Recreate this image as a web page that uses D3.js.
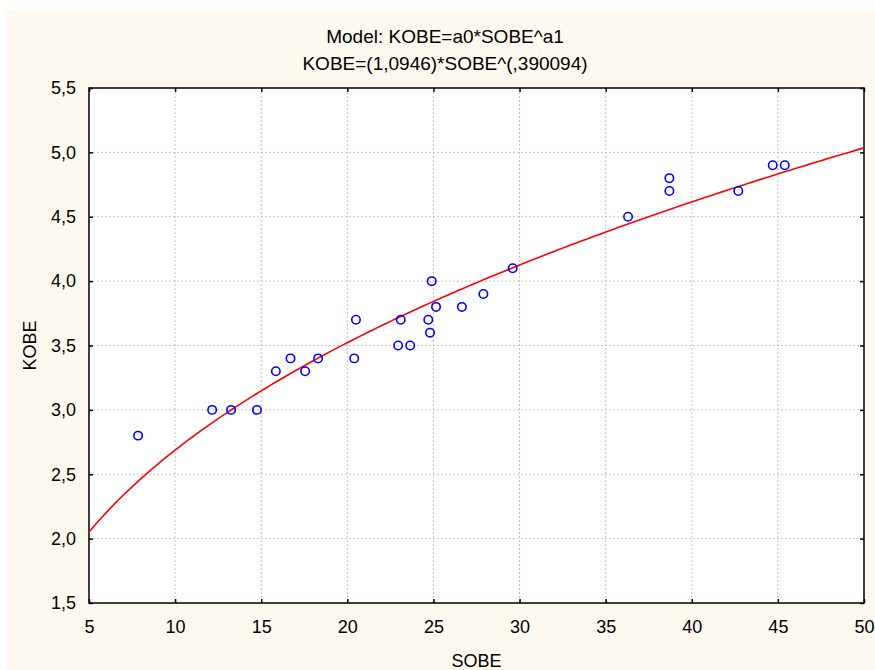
<!DOCTYPE html>
<meta charset="utf-8">
<script src="https://d3js.org/d3.v7.min.js"></script>
<style>
  body { margin: 0; background: #fff; font-family: Arial, "Liberation Sans", sans-serif; }
  .tick text { font-family: Arial, "Liberation Sans", sans-serif; }
</style>
<body>
<div id="chart"></div>
<script>
var sobe = [7.85, 12.15, 13.25, 14.75, 15.85, 16.7, 17.55, 18.3, 20.4, 20.5,
            22.95, 23.1, 23.65, 24.7, 24.8, 24.9, 25.15, 26.65, 27.9, 29.6,
            36.3, 38.7, 38.7, 42.7, 44.7, 45.4];
var kobe = [2.8, 3.0, 3.0, 3.0, 3.3, 3.4, 3.3, 3.4, 3.4, 3.7,
            3.5, 3.7, 3.5, 3.7, 3.6, 4.0, 3.8, 3.8, 3.9, 4.1,
            4.5, 4.8, 4.7, 4.7, 4.9, 4.9];

// fitted model from the title
var a0 = 1.0946, a1 = 0.390094;

var xTicks = [5, 10, 15, 20, 25, 30, 35, 40, 45, 50];
var yTicks = [1.5, 2.0, 2.5, 3.0, 3.5, 4.0, 4.5, 5.0, 5.5];
var titleLines = ["Model: KOBE=a0*SOBE^a1", "KOBE=(1,0946)*SOBE^(,390094)"];

var W = 875, H = 670;
var margin = {top: 88, right: 11, bottom: 67, left: 89};
var width = W - margin.left - margin.right,
    height = H - margin.top - margin.bottom;

var svg = d3.select("#chart").append("svg")
    .attr("width", W)
    .attr("height", H);

// cream panel
svg.append("rect")
    .attr("x", 7).attr("y", 10)
    .attr("width", W - 7).attr("height", H - 10)
    .attr("fill", "#fdf9ee");

var g = svg.append("g")
    .attr("transform", "translate(" + margin.left + "," + margin.top + ")");

var x = d3.scaleLinear().domain([5, 50]).range([0, width]);
var y = d3.scaleLinear().domain([1.5, 5.5]).range([height, 0]);

var fmt = function(d) { return d3.format(".1f")(d).replace(".", ","); };

g.append("rect")
    .attr("width", width).attr("height", height)
    .attr("fill", "#fff");

// grid
g.selectAll(".gx")
    .data(xTicks.slice(1, -1))
    .enter().append("line")
    .attr("x1", function(d) { return x(d); })
    .attr("x2", function(d) { return x(d); })
    .attr("y1", 0).attr("y2", height)
    .attr("stroke", "#c4c4c4")
    .attr("stroke-dasharray", "2,2");

g.selectAll(".gy")
    .data(yTicks.slice(1, -1))
    .enter().append("line")
    .attr("y1", function(d) { return y(d); })
    .attr("y2", function(d) { return y(d); })
    .attr("x1", 0).attr("x2", width)
    .attr("stroke", "#c4c4c4")
    .attr("stroke-dasharray", "2,2");

// axes
var xAxis = g.append("g")
    .attr("transform", "translate(0," + height + ")")
    .call(d3.axisBottom(x).tickValues(xTicks).tickSizeInner(-4).tickSizeOuter(0).tickPadding(17));
var xTop = g.append("g")
    .call(d3.axisTop(x).tickValues(xTicks).tickSizeInner(-4).tickSizeOuter(0).tickFormat(""));
var yAxis = g.append("g")
    .call(d3.axisLeft(y).tickValues(yTicks).tickSizeInner(-4).tickSizeOuter(0).tickPadding(13).tickFormat(fmt));
var yRight = g.append("g")
    .attr("transform", "translate(" + width + ",0)")
    .call(d3.axisRight(y).tickValues(yTicks).tickSizeInner(-4).tickSizeOuter(0).tickFormat(""));

[xAxis, xTop, yAxis, yRight].forEach(function(a) {
  a.select(".domain").remove();
  a.selectAll("line").attr("stroke", "#000").attr("stroke-width", 1.5);
  a.selectAll("text").attr("fill", "#000").style("font-size", "18px");
});

g.append("rect")
    .attr("width", width).attr("height", height)
    .attr("fill", "none")
    .attr("stroke", "#000")
    .attr("stroke-width", 1.5);

// fitted curve
var curveX = d3.range(5, 50.01, 0.25);
var line = d3.line()
    .x(function(d) { return x(d); })
    .y(function(d) { return y(a0 * Math.pow(d, a1)); });

g.append("path")
    .datum(curveX)
    .attr("d", line)
    .attr("fill", "none")
    .attr("stroke", "#ff0000")
    .attr("stroke-width", 1.6);

// points
g.selectAll(".pt")
    .data(sobe)
    .enter().append("circle")
    .attr("cx", function(d) { return x(d); })
    .attr("cy", function(d, i) { return y(kobe[i]); })
    .attr("r", 4.2)
    .attr("fill", "none")
    .attr("stroke", "#0000ff")
    .attr("stroke-width", 1.6);

// titles
svg.selectAll(".title")
    .data(titleLines)
    .enter().append("text")
    .attr("x", 445)
    .attr("y", function(d, i) { return 43 + i * 27; })
    .attr("text-anchor", "middle")
    .style("font-size", "19px")
    .attr("fill", "#000")
    .text(function(d) { return d; });

svg.append("text")
    .attr("x", margin.left + width / 2)
    .attr("y", 667)
    .attr("text-anchor", "middle")
    .style("font-size", "18px")
    .text("SOBE");

svg.append("text")
    .attr("transform", "translate(36," + (margin.top + height / 2) + ") rotate(-90)")
    .attr("text-anchor", "middle")
    .style("font-size", "18px")
    .text("KOBE");
</script>
</body>
